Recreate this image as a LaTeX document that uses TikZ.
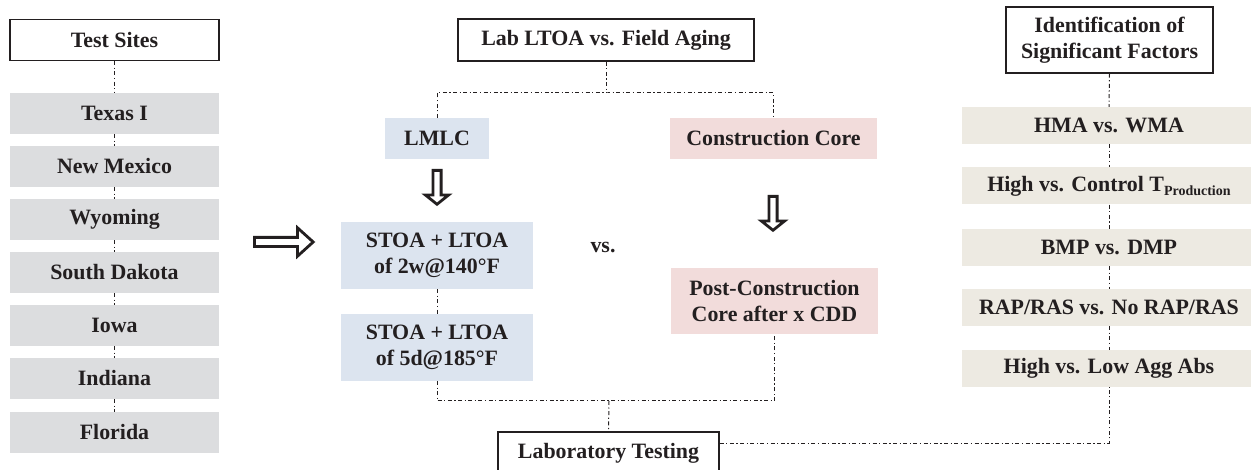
\documentclass[tikz,border=0pt]{standalone}
\usepackage{fontspec}
\setmainfont{Liberation Serif}
\definecolor{sitegray}{HTML}{DCDDDF}
\definecolor{labblue}{HTML}{DCE4EF}
\definecolor{fieldpink}{HTML}{F2DCDB}
\definecolor{factbeige}{HTML}{EDEAE2}
\definecolor{ink}{HTML}{231F20}
\definecolor{linegray}{HTML}{231F20}
\begin{document}
\begin{tikzpicture}[x=1pt,y=-1pt,
  every node/.style={font=\fontsize{21.9}{25.5}\selectfont\bfseries, text=ink, inner sep=0pt, align=center},
  titlebox/.style={draw=ink, line width=1.3pt, fill=white},
  sitebox/.style={fill=sitegray, minimum width=209pt, minimum height=41pt},
  labbox/.style={fill=labblue},
  fieldbox/.style={fill=fieldpink},
  factbox/.style={fill=factbeige, minimum width=294pt, minimum height=37pt},
  link/.style={draw=linegray, line width=1pt, dash pattern=on 4pt off 2.5pt on 1.2pt off 2.5pt},
  hollow/.style={draw=ink, line width=2.8pt, fill=white, line join=miter},
  hdown/.pic={\draw[hollow] (-4.1,1.4) -- (4.1,1.4) -- (4.1,26) -- (11.6,26) -- (0,35.3) -- (-11.6,26) -- (-4.1,26) -- cycle;}
]
\useasboundingbox (0,0) rectangle (1251,470);

% left column
\node[titlebox, minimum width=209pt, minimum height=41pt] (ts) at (114.5,40) {Test Sites};
\node[sitebox] (s1) at (114.5,113.5) {Texas I};
\node[sitebox] (s2) at (114.5,166.5) {New Mexico};
\node[sitebox] (s3) at (114.5,219.5) {Wyoming};
\node[sitebox] (s4) at (114.5,272.5) {South Dakota};
\node[sitebox] (s5) at (114.5,325.5) {Iowa};
\node[sitebox] (s6) at (114.5,378.5) {Indiana};
\node[sitebox] (s7) at (114.5,432.5) {Florida};
\draw[link] (ts.south) -- (s1.north);
\draw[link] (s1.south) -- (s2.north);
\draw[link] (s2.south) -- (s3.north);
\draw[link] (s3.south) -- (s4.north);
\draw[link] (s4.south) -- (s5.north);
\draw[link] (s5.south) -- (s6.north);
\draw[link] (s6.south) -- (s7.north);

% big right arrow
\draw[hollow] (254.4,237.4) -- (297.5,237.4) -- (297.5,227.8) -- (313.2,242) -- (297.5,256.2) -- (297.5,246.6) -- (254.4,246.6) -- cycle;

% middle
\node[titlebox, minimum width=296pt, minimum height=42pt] (lab) at (606,40) {Lab LTOA vs. Field Aging};
\node[labbox, minimum width=104pt, minimum height=41pt] (lmlc) at (437,138.5) {LMLC};
\node[fieldbox, minimum width=207pt, minimum height=41pt] (cc) at (773.5,138.5) {Construction Core};
\node[labbox, minimum width=192pt, minimum height=67pt] (st1) at (437,255.5) {STOA + LTOA\\of 2w@140°F};
\node[labbox, minimum width=192pt, minimum height=67pt] (st2) at (437,347.5) {STOA + LTOA\\of 5d@185°F};
\node[fieldbox, minimum width=207pt, minimum height=66pt] (pc) at (774.5,301) {Post-Construction\\Core after x CDD};
\node (vs) at (603,247) {vs.};
\node[titlebox, minimum width=221pt, minimum height=42pt] (lt) at (608.5,453) {Laboratory Testing};

\coordinate (j1) at (606,93);
\coordinate (j2) at (609,401);
\draw[link] (lab.south) -- (j1);
\draw[link] (lmlc.north) |- (j1) -| (cc.north);
\draw[link] (st1.south) -- (st2.north);
\draw[link] (st2.south) |- (j2) -| (pc.south);
\draw[link] (j2) -- (lt.north);

\pic at (437,169) {hdown};
\pic at (773,195) {hdown};

% right column
\node[titlebox, minimum width=207pt, minimum height=66pt] (id) at (1109.5,40) {Identification of\\Significant Factors};
\node[factbox] (f1) at (1109,125.5) {HMA vs. WMA};
\node[factbox] (f2) at (1109,186) {High vs. Control T\raisebox{-4.5pt}{\fontsize{14}{14}\selectfont Production}};
\node[factbox] (f3) at (1109,247.5) {BMP vs. DMP};
\node[factbox] (f4) at (1109,307.5) {RAP/RAS vs. No RAP/RAS};
\node[factbox] (f5) at (1109,368.5) {High vs. Low Agg Abs};
\draw[link] (id.south) -- (f1.north);
\draw[link] (f1.south) -- (f2.north);
\draw[link] (f2.south) -- (f3.north);
\draw[link] (f3.south) -- (f4.north);
\draw[link] (f4.south) -- (f5.north);
\draw[link] ([yshift=10pt]lt.east) -| (f5.south);
\end{tikzpicture}
\end{document}
